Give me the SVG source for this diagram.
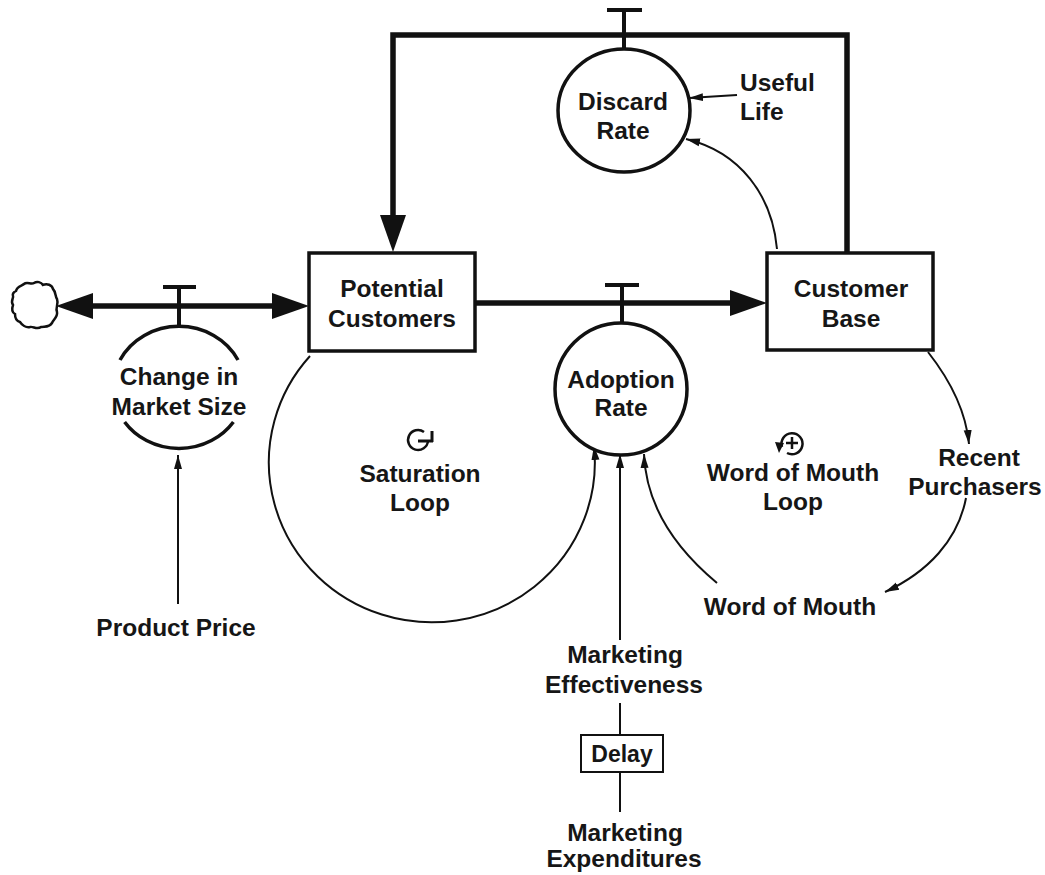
<svg xmlns="http://www.w3.org/2000/svg" width="1045" height="875" viewBox="0 0 1045 875">
<style>
.t{font-family:"Liberation Sans",Arial,sans-serif;font-weight:bold;font-size:24.5px;fill:#161616;text-anchor:middle}
.tl{text-anchor:start}
.box{fill:#fff;stroke:#111;stroke-width:3.5}
.aux{fill:#fff;stroke:#111;stroke-width:3.5}
.flow{fill:none;stroke:#111;stroke-width:5.5}
.valve{fill:none;stroke:#111;stroke-width:4}
.info{fill:none;stroke:#111;stroke-width:2}
</style>
<defs>
<marker id="fa" markerUnits="userSpaceOnUse" markerWidth="38" markerHeight="26" refX="0" refY="13" orient="auto-start-reverse">
<path d="M0,0 L37,13 L0,26 z" fill="#111"/>
</marker>
<marker id="ia" markerUnits="userSpaceOnUse" markerWidth="15" markerHeight="10" refX="14" refY="5" orient="auto">
<path d="M0,1 L14,5 L0,9 z" fill="#111"/>
</marker>
</defs>

<g id="connectors">
<path class="flow" d="M93 306 H272" marker-start="url(#fa)" marker-end="url(#fa)"/>
<path class="flow" d="M475 303 H730" marker-end="url(#fa)"/>
<path class="flow" d="M847 253 V35 H393 V215" marker-end="url(#fa)"/>
<path class="valve" d="M163 287 H196 M179 287 V327"/>
<path class="valve" d="M605 285 H639 M622 285 V323"/>
<path class="valve" d="M607 10 H642 M624 10 V49"/>
<path class="info" d="M178 604 V455" marker-end="url(#ia)"/>
<path class="info" d="M737 95 L689 98" marker-end="url(#ia)"/>
<path class="info" d="M777 249 C772 195 740 152 686 139" marker-end="url(#ia)"/>
<path class="info" d="M310 356 A163 160 0 1 0 594 446" marker-end="url(#ia)"/>
<path class="info" d="M620 640 V454" marker-end="url(#ia)"/>
<path class="info" d="M717 583 C675 548 646 505 644 454" marker-end="url(#ia)"/>
<path class="info" d="M928 352 C950 380 966 412 969 444" marker-end="url(#ia)"/>
<path class="info" d="M966 498 C958 540 928 572 885 592" marker-end="url(#ia)"/>
<path class="info" d="M620 703 V735 M620 772 V812"/>
</g>

<g id="cloud">
<path d="M16 291 C17 286 22 286 24 284 C27 281 31 285 34 283 C37 281 41 282 43 285 C47 283 52 285 53 289 C56 292 55 296 57 299 C59 304 55 308 57 312 C58 317 53 320 52 323 C49 328 44 326 41 327 C37 330 33 326 30 327 C26 328 22 325 20 322 C16 321 15 317 15 314 C11 312 12 308 13 305 C10 301 14 298 13 296 C12 293 14 292 16 291 Z" fill="#fff" stroke="#111" stroke-width="2.5"/>
</g>

<g id="potential-customers">
<rect class="box" x="309" y="253" width="166" height="98"/>
<text class="t" x="392" y="297">Potential</text>
<text class="t" x="392" y="327">Customers</text>
</g>

<g id="customer-base">
<rect class="box" x="767" y="253" width="166" height="97"/>
<text class="t" x="851" y="297">Customer</text>
<text class="t" x="851" y="327">Base</text>
</g>

<g id="change-in-market-size">
<path class="aux" d="M120 360 A66 61 0 0 1 238 360 M124.6 422 A66 61 0 0 0 233.4 422" style="fill:none"/>
<text class="t" x="179" y="385">Change in</text>
<text class="t" x="179" y="415">Market Size</text>
</g>

<g id="adoption-rate">
<ellipse class="aux" cx="621" cy="389" rx="66" ry="66"/>
<text class="t" x="621" y="388">Adoption</text>
<text class="t" x="621" y="416">Rate</text>
</g>

<g id="discard-rate">
<ellipse class="aux" cx="624" cy="110.5" rx="66" ry="61.5"/>
<text class="t" x="623" y="110">Discard</text>
<text class="t" x="623" y="139">Rate</text>
</g>

<g id="useful-life">
<text class="t tl" x="740" y="91">Useful</text>
<text class="t tl" x="740" y="120">Life</text>
</g>

<g id="saturation-loop">
<path d="M424 432 A10 10 0 1 0 428 441" fill="none" stroke="#111" stroke-width="2.5"/>
<path d="M418 441 H433 M432 431 V442" fill="none" stroke="#111" stroke-width="3"/>
<text class="t" x="420" y="482">Saturation</text>
<text class="t" x="420" y="511">Loop</text>
</g>

<g id="word-of-mouth-loop">
<path d="M782 447 A10.5 10.5 0 1 1 787 453" fill="none" stroke="#111" stroke-width="2.5"/>
<path d="M775 442 L784 443 L779 453 z" fill="#111"/>
<path d="M792 437 V449 M786 443 H798" stroke="#111" stroke-width="2.5"/>
<text class="t" x="793" y="481">Word of Mouth</text>
<text class="t" x="793" y="510">Loop</text>
</g>

<g id="recent-purchasers">
<text class="t" x="979" y="466">Recent</text>
<text class="t" x="975" y="495">Purchasers</text>
</g>

<g id="word-of-mouth">
<text class="t" x="790" y="615">Word of Mouth</text>
</g>

<g id="product-price">
<text class="t" x="176" y="636">Product Price</text>
</g>

<g id="marketing-effectiveness">
<text class="t" x="625" y="663">Marketing</text>
<text class="t" x="624" y="693">Effectiveness</text>
</g>

<g id="delay">
<rect x="581" y="735" width="82" height="37" fill="#fff" stroke="#111" stroke-width="2"/>
<text class="t" x="622" y="762" style="font-size:23px">Delay</text>
</g>

<g id="marketing-expenditures">
<text class="t" x="625" y="841">Marketing</text>
<text class="t" x="624" y="867">Expenditures</text>
</g>
</svg>
